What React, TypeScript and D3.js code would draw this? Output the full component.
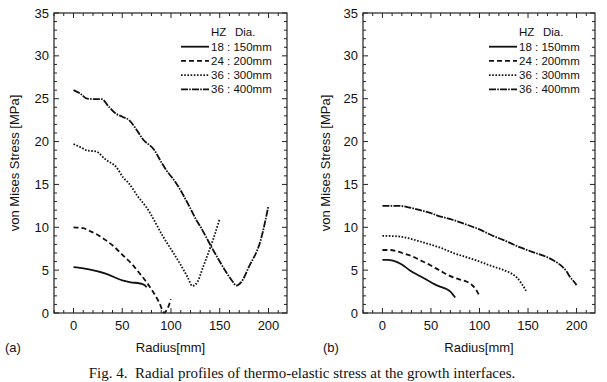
import React from "react";
import * as d3 from "d3";

// ---- data ----
const xTickLabels = [0, 50, 100, 150, 200];
const yTickLabels = [0, 5, 10, 15, 20, 25, 30, 35];
const legendTitle = ["HZ", "Dia."];
const seriesNames = ["18 : 150mm", "24 : 200mm", "36 : 300mm", "36 : 400mm"];

// panel (a)
const rA18 = [0, 5, 16, 33, 50, 60, 66, 70, 73, 75];
const vA18 = [5.35, 5.3, 5.1, 4.6, 3.8, 3.55, 3.5, 3.4, 3.25, 3.0];
const rA24 = [0, 10, 16, 25, 33, 42, 50, 60, 68, 78, 88, 93, 100];
const vA24 = [10.0, 9.9, 9.6, 9.1, 8.5, 7.7, 6.8, 5.7, 4.6, 3.1, 1.2, 0.05, 1.6];
const rA36a = [0, 8, 14, 23, 33, 44, 51, 57, 66, 75, 92, 109, 117, 122, 127, 133, 143, 150];
const vA36a = [19.7, 19.3, 18.95, 18.85, 17.9, 17.0, 15.8, 15.1, 13.6, 12.3, 8.9, 5.8, 4.2, 3.15, 3.6, 5.4, 8.5, 11.0];
const rA36b = [0, 7, 14, 22, 29, 36, 43, 50, 57, 64, 71, 83, 90, 95, 105, 119, 126, 129, 143, 157, 163, 167, 172, 180, 192, 200];
const vA36b = [26.0, 25.6, 25.0, 24.95, 24.95, 24.1, 23.3, 22.9, 22.5, 21.5, 20.3, 19.0, 17.6, 16.7, 15.2, 12.4, 10.85, 10.3, 7.4, 4.7, 3.7, 3.2, 3.6, 5.4, 8.5, 12.5];

// panel (b)
const rB18 = [0, 5, 11, 20, 28, 37, 46, 53, 60, 66, 70, 73, 75];
const vB18 = [6.2, 6.2, 6.1, 5.65, 5.0, 4.4, 3.85, 3.4, 3.05, 2.8, 2.5, 2.1, 1.8];
const rB24 = [0, 8, 15, 23, 32, 40, 49, 60, 70, 80, 87, 92, 96, 100];
const vB24 = [7.35, 7.35, 7.2, 6.9, 6.55, 6.1, 5.6, 4.9, 4.3, 3.9, 3.65, 3.3, 2.8, 2.0];
const rB36a = [0, 10, 22, 34, 46, 60, 73, 87, 100, 112, 125, 133, 138, 143, 148];
const vB36a = [9.0, 8.98, 8.85, 8.5, 8.1, 7.6, 7.0, 6.5, 6.0, 5.5, 5.0, 4.6, 4.2, 3.5, 2.6];
const rB36b = [0, 10, 17, 28, 39, 50, 56, 73, 87, 100, 112, 125, 142, 159, 170, 176, 181, 185, 190, 193, 197, 200];
const vB36b = [12.5, 12.5, 12.5, 12.3, 12.0, 11.65, 11.4, 10.85, 10.3, 9.75, 9.1, 8.5, 7.65, 6.95, 6.5, 6.15, 5.8, 5.45, 4.8, 4.25, 3.7, 3.25];

const dashes = [null, "5,3", "1.6,1.6", "7,1.2,1.6,1.2"];

const FONT = "'Liberation Sans', Arial, sans-serif";

type Series = { r: number[]; v: number[] };

function Panel({ left, right, label, series, labelX, titleX }: { left: number; right: number; label: string; series: Series[]; labelX: number; titleX: number }) {
  const top = 13, bottom = 313;
  const x = d3.scaleLinear().domain([-20, 219]).range([left, right]);
  const y = d3.scaleLinear().domain([0, 35]).range([bottom, top]);
  const line = d3.line<[number, number]>().x(d => x(d[0])).y(d => y(d[1])).curve(d3.curveMonotoneX);
  const xMinor = d3.range(-20, 220, 10);
  const yMinor = d3.range(0, 36, 1);
  const stroke = "#222";
  const legX = right - 106;
  return (
    <g>
      {xMinor.map(t => {
        const L = t % 50 === 0 ? 5 : 3;
        return (
          <g key={"xt" + t}>
            <line x1={x(t)} x2={x(t)} y1={bottom} y2={bottom - L} stroke={stroke} strokeWidth={1} />
            <line x1={x(t)} x2={x(t)} y1={top} y2={top + L} stroke={stroke} strokeWidth={1} />
          </g>
        );
      })}
      {yMinor.map(t => {
        const L = t % 5 === 0 ? 5 : 3;
        return (
          <g key={"yt" + t}>
            <line x1={left} x2={left + L} y1={y(t)} y2={y(t)} stroke={stroke} strokeWidth={1} />
            <line x1={right} x2={right - L} y1={y(t)} y2={y(t)} stroke={stroke} strokeWidth={1} />
          </g>
        );
      })}
      <rect x={left} y={top} width={right - left} height={bottom - top} fill="none" stroke={stroke} strokeWidth={1.2} />
      {xTickLabels.map(t => (
        <text key={"xl" + t} x={x(t)} y={329.5} textAnchor="middle" fontFamily={FONT} fontSize={13} fill="#111">{t}</text>
      ))}
      {yTickLabels.map(t => (
        <text key={"yl" + t} x={left - 5} y={y(t)} dy="0.35em" textAnchor="end" fontFamily={FONT} fontSize={13} fill="#111">{t}</text>
      ))}
      <text x={(left + right) / 2} y={352} textAnchor="middle" fontFamily={FONT} fontSize={13} fill="#111">Radius[mm]</text>
      <text transform={`translate(${titleX},${(top + bottom) / 2}) rotate(-90)`} textAnchor="middle" dy="0.35em" fontFamily={FONT} fontSize={13} fill="#111">von Mises Stress [MPa]</text>
      <text x={labelX} y={352} fontFamily={FONT} fontSize={13} fill="#111">{label}</text>
      {series.map((s, i) => (
        <path key={"s" + i} d={line(s.r.map((r, k) => [r, s.v[k]] as [number, number])) || ""} fill="none" stroke="#111" strokeWidth={1.8} strokeDasharray={dashes[i] || undefined} />
      ))}
      <text x={legX + 30} y={32} dy="0.35em" fontFamily={FONT} fontSize={11.5} fill="#111">{legendTitle[0]}</text>
      <text x={legX + 54} y={32} dy="0.35em" fontFamily={FONT} fontSize={11.5} fill="#111">{legendTitle[1]}</text>
      {seriesNames.map((n, i) => {
        const yy = 46.7 + i * 14.2;
        return (
          <g key={"lg" + i}>
            <line x1={legX} x2={legX + 28} y1={yy} y2={yy} stroke="#111" strokeWidth={1.8} strokeDasharray={dashes[i] || undefined} />
            <text x={legX + 30} y={yy} dy="0.35em" fontFamily={FONT} fontSize={11.5} fill="#111">{n}</text>
          </g>
        );
      })}
    </g>
  );
}

export default function App() {
  const seriesA: Series[] = [
    { r: rA18, v: vA18 },
    { r: rA24, v: vA24 },
    { r: rA36a, v: vA36a },
    { r: rA36b, v: vA36b },
  ];
  const seriesB: Series[] = [
    { r: rB18, v: vB18 },
    { r: rB24, v: vB24 },
    { r: rB36a, v: vB36a },
    { r: rB36b, v: vB36b },
  ];
  return (
    <svg width={607} height={382} style={{ position: "absolute", left: 0, top: 0, background: "#fff" }}>
      <rect x={0} y={0} width={607} height={382} fill="#fff" />
      <Panel left={54} right={287} label="(a)" series={seriesA} labelX={5} titleX={14} />
      <Panel left={363} right={595} label="(b)" series={seriesB} labelX={323} titleX={325} />
      <text x={302} y={378} textAnchor="middle" style={{ whiteSpace: "pre" }} fontFamily="'Liberation Serif', 'Times New Roman', serif" fontSize={15} fill="#111">Fig. 4.  Radial profiles of thermo-elastic stress at the growth interfaces.</text>
    </svg>
  );
}
